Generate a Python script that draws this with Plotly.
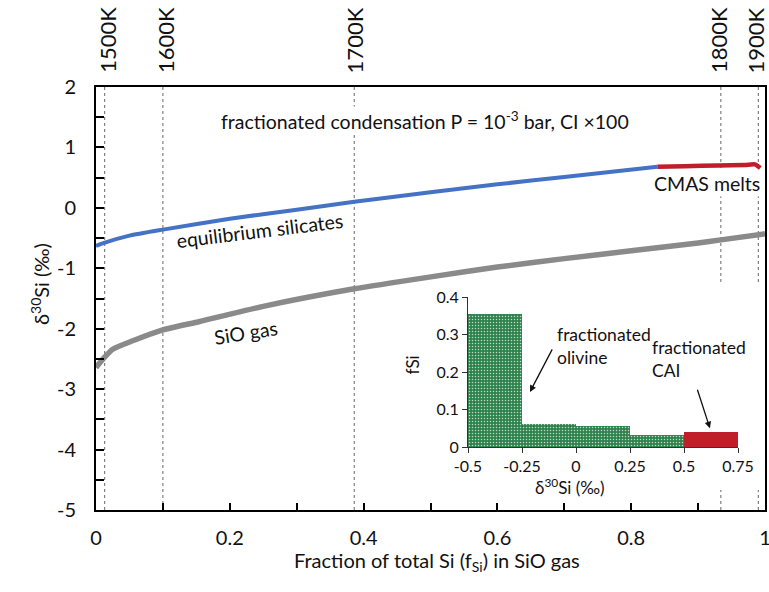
import plotly.graph_objects as go

# ---------------- data ----------------
blue_f = [0, 0.012, 0.05, 0.1, 0.2, 0.3, 0.386, 0.5, 0.6, 0.7, 0.839]
blue_d = [-0.63, -0.58, -0.46, -0.36, -0.18, -0.03, 0.10, 0.26, 0.39, 0.51, 0.68]

red_f = [0.839, 0.88, 0.93, 0.97, 0.985, 0.993]
red_d = [0.68, 0.69, 0.70, 0.71, 0.72, 0.66]

gray_f = [0, 0.013, 0.025, 0.055, 0.1, 0.155, 0.25, 0.386, 0.508, 0.6, 0.7, 0.8, 0.9, 0.934, 1.0]
gray_d = [-2.64, -2.47, -2.34, -2.2, -2.02, -1.88, -1.63, -1.34, -1.13, -0.98, -0.84, -0.71, -0.58, -0.53, -0.43]

temp_labels = ["1500K", "1600K", "1700K", "1800K", "1900K"]
temp_f = [0.013, 0.10, 0.386, 0.934, 0.99]

x_ticks = [0, 0.2, 0.4, 0.6, 0.8, 1]
x_ticktext = ["0", "0.2", "0.4", "0.6", "0.8", "1"]
y_ticks = [-5, -4, -3, -2, -1, 0, 1, 2]
y_ticktext = ["-5", "-4", "-3", "-2", "-1", "0", "1", "2"]

# inset histogram
bin_left = [-0.5, -0.25, 0, 0.25, 0.5]
bin_width = 0.25
bin_fsi = [0.355, 0.061, 0.056, 0.032, 0.039]
bin_is_cai = [False, False, False, False, True]
inset_xticks = [-0.5, -0.25, 0, 0.25, 0.5, 0.75]
inset_xticktext = ["-0.5", "-0.25", "0", "0.25", "0.5", "0.75"]
inset_yticks = [0, 0.1, 0.2, 0.3, 0.4]
inset_yticktext = ["0", "0.1", "0.2", "0.3", "0.4"]

FONT = "Lato"
TXT = "#111111"
BLUE = "#4472c4"
RED = "#bf1f2a"
GRAY = "#8a8a8a"
GREEN = "#2d834b"

fig = go.Figure()

fig.add_trace(go.Scatter(x=gray_f, y=gray_d, mode="lines",
                         line=dict(color=GRAY, width=5.5, shape="spline", smoothing=0.6),
                         showlegend=False, hoverinfo="skip"))
fig.add_trace(go.Scatter(x=blue_f, y=blue_d, mode="lines",
                         line=dict(color=BLUE, width=4, shape="spline", smoothing=0.6),
                         showlegend=False, hoverinfo="skip"))
fig.add_trace(go.Scatter(x=red_f, y=red_d, mode="lines",
                         line=dict(color=RED, width=4.5, shape="spline", smoothing=0.6),
                         showlegend=False, hoverinfo="skip"))

# inset bars
centers = [b + bin_width / 2 for b in bin_left]
fig.add_trace(go.Bar(
    x=centers, y=bin_fsi, width=[bin_width] * len(centers),
    marker=dict(color=[RED if c else GREEN for c in bin_is_cai], line=dict(width=0),
                pattern=dict(shape=["." if not c else "" for c in bin_is_cai], size=3, solidity=0.2,
                             fgcolor="#4a9a64", fgopacity=0.7)),
    xaxis="x2", yaxis="y2", showlegend=False, hoverinfo="skip"))

shapes = []
for f in temp_f:
    shapes.append(dict(type="line", xref="x", yref="paper", x0=f, x1=f, y0=0, y1=1,
                       line=dict(color="#666666", width=1, dash="dot"), layer="below"))
# white background of inset
shapes.append(dict(type="rect", xref="paper", yref="paper", x0=0.52, x1=0.995, y0=0.047, y1=0.532,
                   fillcolor="white", line=dict(width=0), layer="below"))

label_shift = [2, 2, 0, -3, -3]
annotations = []
for lab, f, s in zip(temp_labels, temp_f, label_shift):
    annotations.append(dict(text=lab, x=f, y=1.028, xref="x", yref="paper", textangle=-90, xshift=s,
                            showarrow=False, xanchor="center", yanchor="bottom",
                            font=dict(family=FONT, size=22, color=TXT)))

annotations += [
    dict(text="fractionated condensation P = 10<sup>-3</sup> bar, CI ×100", x=0.492, y=1.44, xref="x", yref="y",
         showarrow=False, bgcolor="white", font=dict(family=FONT, size=19.5, color=TXT)),
    dict(text="equilibrium silicates", x=0.245, y=-0.38, xref="x", yref="y", textangle=-7,
         showarrow=False, font=dict(family=FONT, size=19.5, color=TXT)),
    dict(text="SiO gas", x=0.224, y=-2.06, xref="x", yref="y", textangle=-9,
         showarrow=False, font=dict(family=FONT, size=19.5, color=TXT)),
    dict(text="CMAS melts", x=0.913, y=0.40, xref="x", yref="y", bgcolor="white",
         showarrow=False, font=dict(family=FONT, size=19.5, color=TXT)),
    dict(text="δ<sup>30</sup>Si (‰)", x=(25 - 96) / 669, y=(510 - 284) / 423, xref="paper", yref="paper",
         textangle=-90, showarrow=False, font=dict(family=FONT, size=20, color=TXT)),
    dict(text="Fraction of total Si (f<sub>Si</sub>) in SiO gas", x=(437 - 96) / 669, y=(510 - 577) / 423,
         xref="paper", yref="paper", showarrow=False, font=dict(family=FONT, size=20, color=TXT)),
    # inset texts
    dict(text="fSi", x=(412 - 96) / 669, y=(510 - 377) / 423, xref="paper", yref="paper", textangle=-90,
         showarrow=False, font=dict(family=FONT, size=17, color=TXT)),
    dict(text="δ<sup>30</sup>Si (‰)", x=(607 - 96) / 669, y=(510 - 473) / 423, xref="paper", yref="paper",
         yanchor="top", showarrow=False, font=dict(family=FONT, size=17, color=TXT)),
    dict(text="fractionated<br>olivine", x=(555 - 96) / 669, y=(510 - 346) / 423, xref="paper", yref="paper",
         xanchor="left", align="left", showarrow=False, font=dict(family=FONT, size=17.5, color=TXT)),
    dict(text="fractionated<br>CAI", x=(650 - 96) / 669, y=(510 - 383) / 423, xref="paper", yref="paper",
         xanchor="left", align="left", showarrow=False, font=dict(family=FONT, size=17.5, color=TXT)),
    dict(text="", x=-0.213, y=0.147, xref="x2", yref="y2", ax=23, ay=-44, showarrow=True,
         arrowhead=2, arrowsize=1, arrowwidth=1.3, arrowcolor=TXT, standoff=0),
    dict(text="", x=0.62, y=0.05, xref="x2", yref="y2", ax=-13, ay=-40, showarrow=True,
         arrowhead=2, arrowsize=1, arrowwidth=1.3, arrowcolor=TXT, standoff=0),
]

fig.update_layout(
    width=769, height=592, autosize=False,
    margin=dict(l=96, r=4, t=87, b=82),
    paper_bgcolor="white", plot_bgcolor="white",
    font=dict(family=FONT, size=18, color=TXT),
    shapes=shapes, annotations=annotations,
    bargap=0,
    xaxis=dict(range=[0, 1], tickvals=x_ticks, ticktext=x_ticktext, ticks="inside", ticklen=7, tickwidth=1.5,
               tickcolor="black", showline=True, linecolor="black", linewidth=2, mirror=True,
               showgrid=False, zeroline=False, ticklabelstandoff=9, automargin=False,
               ticklabeloverflow="allow",
               tickfont=dict(family=FONT, size=20, color=TXT),
               minor=dict(dtick=0.1, ticks="inside", ticklen=7, tickwidth=1.5, tickcolor="black", showgrid=False)),
    yaxis=dict(range=[-5, 2], tickvals=y_ticks, ticktext=y_ticktext, ticks="inside", ticklen=8, tickwidth=1.5,
               tickcolor="black", showline=True, linecolor="black", linewidth=2, mirror=True,
               showgrid=False, zeroline=False, ticklabelstandoff=14, automargin=False,
               ticklabeloverflow="allow",
               tickfont=dict(family=FONT, size=20, color=TXT),
               minor=dict(dtick=0.5, ticks="inside", ticklen=8, tickwidth=1.5, tickcolor="black", showgrid=False)),
    xaxis2=dict(domain=[(468 - 96) / 669, (738 - 96) / 669], anchor="y2", range=[-0.5, 0.75],
                tickvals=inset_xticks, ticktext=inset_xticktext, ticks="outside", ticklen=5, tickcolor="#333",
                showline=True, linecolor="#333", linewidth=1, showgrid=False, zeroline=False, automargin=False,
                ticklabelstandoff=0,
                tickfont=dict(family=FONT, size=16, color=TXT)),
    yaxis2=dict(domain=[(510 - 447) / 423, (510 - 297) / 423], anchor="x2", range=[0, 0.4],
                tickvals=inset_yticks, ticktext=inset_yticktext, ticks="outside", ticklen=5, tickcolor="#333",
                showline=True, linecolor="#333", linewidth=1, showgrid=False, zeroline=False, automargin=False,
                tickfont=dict(family=FONT, size=16, color=TXT)),
)

fig.write_html(
    "out.html",
    config={"responsive": False, "displayModeBar": False},
    post_script=("document.body.style.margin='0';document.body.style.overflow='hidden';"),
)
